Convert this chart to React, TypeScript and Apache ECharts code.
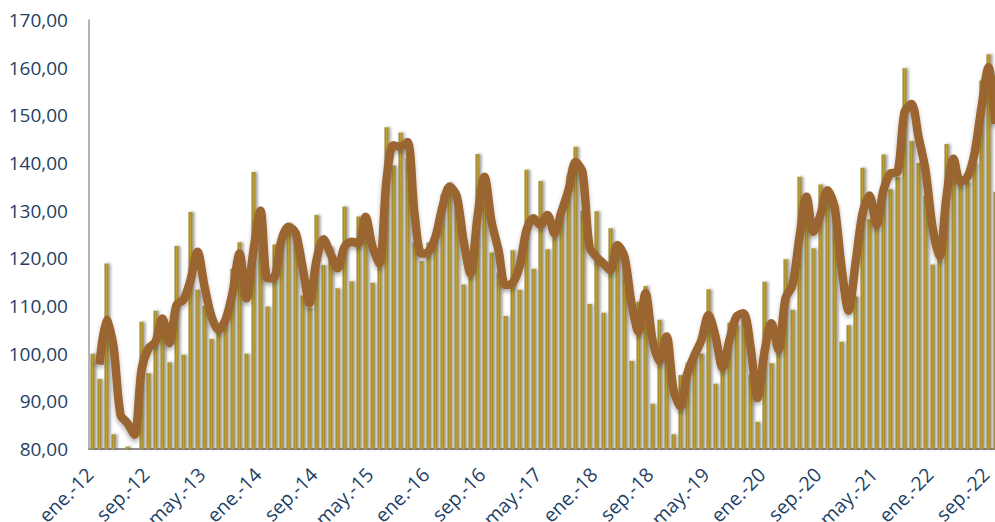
import React, { useEffect, useRef } from 'react';
import * as echarts from 'echarts';

const MONTHS = ['ene.', 'feb.', 'mar.', 'abr.', 'may.', 'jun.', 'jul.', 'ago.', 'sep.', 'oct.', 'nov.', 'dic.'];
const YEARS = ['12', '13', '14', '15', '16', '17', '18', '19', '20', '21', '22'];
const MONTH_COUNT = 130; // ene.-12 .. oct.-22

const categories: string[] = [];
YEARS.forEach((y) => MONTHS.forEach((m) => categories.push(`${m}-${y}`)));
const cats = categories.slice(0, MONTH_COUNT);

// Monthly index (bars)
const barValues: number[] = [
  // 2012
  100.0, 94.7, 118.9, 83.1, 80.0, 80.5, 80.0, 106.7, 95.9, 109.0, 105.0, 98.2,
  // 2013
  122.6, 99.8, 129.7, 113.4, 110.0, 103.1, 105.0, 108.0, 117.8, 123.4, 100.0, 138.1,
  // 2014
  127.0, 109.9, 122.9, 124.0, 127.4, 125.0, 112.2, 109.7, 129.1, 118.6, 122.4, 113.7,
  // 2015
  130.9, 115.2, 128.8, 129.0, 114.9, 120.0, 147.5, 139.5, 146.4, 141.0, 123.3, 119.4,
  // 2016
  123.3, 125.0, 133.4, 135.9, 131.0, 114.5, 120.0, 141.9, 135.0, 121.2, 117.0, 107.9,
  // 2017
  121.7, 113.4, 138.6, 117.8, 136.2, 121.9, 126.0, 129.0, 137.4, 143.4, 130.0, 110.4,
  // 2018
  129.9, 108.6, 126.3, 121.0, 118.0, 98.5, 110.9, 114.2, 89.5, 107.1, 101.0, 83.1,
  // 2019
  95.5, 98.0, 100.0, 100.0, 113.5, 93.7, 97.0, 106.5, 106.0, 108.0, 95.6, 85.7,
  // 2020
  115.1, 98.0, 103.0, 119.8, 109.2, 137.1, 132.0, 122.1, 135.5, 133.0, 131.0, 102.5,
  // 2021
  106.0, 112.0, 139.0, 128.2, 127.0, 141.8, 134.5, 137.0, 159.9, 144.6, 140.0, 133.2,
  // 2022
  118.7, 120.0, 144.0, 138.0, 135.2, 136.0, 140.0, 157.3, 162.8, 133.9,
];

// Smoothed trend (line)
const lineValues: (number | null)[] = [
  // 2012
  null, 97.7, 107.1, 101.5, 87.2, 85.4, 83.0, 96.6, 101.1, 102.5, 107.4, 102.2,
  // 2013
  110.2, 111.3, 115.4, 121.4, 114.1, 107.8, 105.0, 107.1, 112.7, 121.0, 111.6, 121.7,
  // 2014
  130.0, 115.8, 116.1, 123.8, 126.6, 125.4, 118.2, 110.6, 119.6, 124.0, 121.0, 117.9,
  // 2015
  122.4, 123.5, 123.1, 128.7, 122.4, 118.9, 136.4, 143.7, 143.4, 144.4, 129.4, 121.0,
  // 2016
  121.4, 124.5, 130.8, 135.0, 133.2, 123.8, 116.8, 128.7, 137.1, 127.7, 121.7, 114.4,
  // 2017
  114.8, 118.2, 125.9, 128.4, 127.0, 129.1, 125.2, 129.8, 134.3, 140.2, 138.1, 122.4,
  // 2018
  120.3, 118.9, 117.5, 122.8, 120.3, 110.6, 104.6, 112.7, 102.9, 98.4, 103.6, 92.4,
  // 2019
  88.9, 95.9, 99.7, 102.9, 108.1, 103.6, 97.0, 102.9, 107.8, 108.5, 101.5, 90.7,
  // 2020
  100.4, 106.4, 100.8, 111.6, 114.4, 124.5, 132.9, 125.6, 129.1, 134.3, 130.8, 118.2,
  // 2021
  109.0, 118.9, 129.4, 133.2, 127.0, 134.3, 137.8, 138.1, 150.7, 152.4, 145.5, 138.5,
  // 2022
  126.6, 120.3, 132.9, 140.9, 136.0, 137.1, 142.0, 151.7, 160.1, 148.2,
];

const Y_MIN = 80;
const Y_MAX = 170;
const Y_STEP = 10;

export default function App() {
  const ref = useRef<HTMLDivElement>(null);

  useEffect(() => {
    if (!ref.current) return;
    const chart = echarts.init(ref.current, null, { renderer: 'svg' });
    const labelColor = '#243F67';
    chart.setOption({
      animation: false,
      backgroundColor: '#ffffff',
      grid: {
        left: 89,
        right: 1,
        top: 20,
        bottom: 73,
        containLabel: false,
        outerBoundsMode: 'none',
      },
      xAxis: {
        type: 'category',
        data: cats,
        boundaryGap: true,
        axisLine: { show: true, lineStyle: { color: '#8f8f8f', width: 2 } },
        axisTick: { show: false },
        axisLabel: {
          interval: 7,
          rotate: 45,
          color: labelColor,
          fontFamily: 'Open Sans',
          fontSize: 19.5,
          margin: 19,
          padding: [0, 4, 0, 0],
        },
        splitLine: { show: false },
      },
      yAxis: {
        type: 'value',
        min: Y_MIN,
        max: Y_MAX,
        interval: Y_STEP,
        axisLine: { show: true, lineStyle: { color: '#9a9a9a', width: 1.5 } },
        axisTick: { show: false },
        axisLabel: {
          color: labelColor,
          fontFamily: 'Open Sans',
          fontSize: 19,
          margin: 21,
          formatter: (v: number) => v.toFixed(2).replace('.', ','),
        },
        splitLine: {
          show: true,
          lineStyle: {
            color: '#999999',
            width: 1.5,
            shadowColor: 'rgba(0,0,0,0.2)',
            shadowBlur: 2,
            shadowOffsetY: 1,
          },
        },
      },
      series: [
        {
          type: 'bar',
          data: barValues,
          barWidth: 4,
          itemStyle: {
            color: new echarts.graphic.LinearGradient(0, 0, 1, 0, [
              { offset: 0, color: '#8E7F35' },
              { offset: 0.5, color: '#C4A02A' },
              { offset: 1, color: '#8E7F35' },
            ]),
            shadowColor: 'rgba(0,0,0,0.4)',
            shadowBlur: 3,
            shadowOffsetX: 2,
          },
          z: 2,
        },
        {
          type: 'line',
          data: lineValues,
          smooth: 0.3,
          showSymbol: false,
          connectNulls: false,
          lineStyle: {
            color: '#9B6532',
            width: 8.5,
            cap: 'butt',
            join: 'round',
            shadowColor: 'rgba(0,0,0,0.3)',
            shadowBlur: 4,
            shadowOffsetY: 3,
          },
          z: 3,
        },
      ],
    });
    return () => chart.dispose();
  }, []);

  return (
    <div
      style={{
        position: 'fixed',
        left: 0,
        top: 0,
        width: 995,
        height: 522,
        overflow: 'hidden',
        background: '#fff',
      }}
    >
      <div ref={ref} style={{ width: 1000, height: 522 }} />
    </div>
  );
}
